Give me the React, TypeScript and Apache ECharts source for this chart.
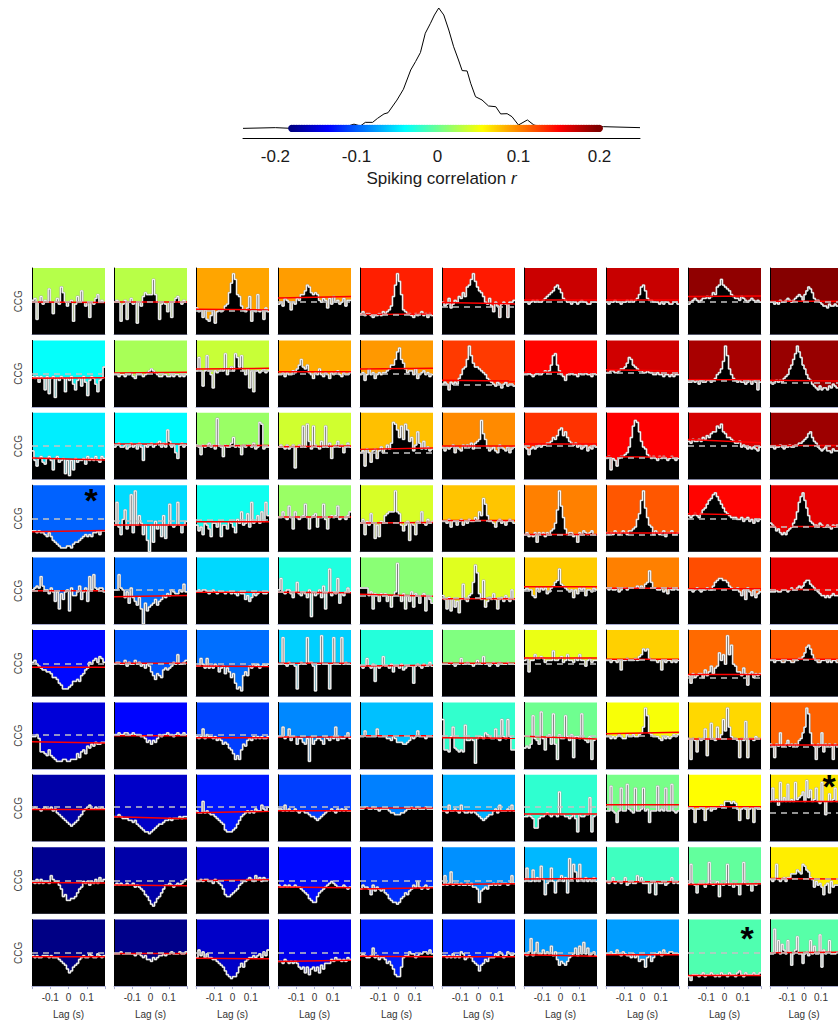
import React, { useEffect, useRef } from "react";
import * as echarts from "echarts";

// ---------- top panel: distribution of spiking correlations ----------
const densityR = [-0.24, -0.2, -0.18, -0.12, -0.103, -0.095, -0.089, -0.08, -0.074, -0.066, -0.061, -0.05, -0.042, -0.033, -0.027, -0.021, -0.015, -0.0086, -0.0037, 0.0016, 0.0078, 0.014, 0.02, 0.026, 0.0305, 0.0366, 0.041, 0.047, 0.055, 0.063, 0.072, 0.078, 0.086, 0.092, 0.1, 0.111, 0.119, 0.13, 0.205, 0.25];
const densityH = [0.0, 0.006, 0.0, 0.0, 0.035, 0.02, 0.05, 0.05, 0.083, 0.12, 0.13, 0.235, 0.325, 0.485, 0.555, 0.63, 0.79, 0.873, 0.942, 1.0, 0.942, 0.817, 0.678, 0.568, 0.48, 0.477, 0.375, 0.263, 0.236, 0.186, 0.18, 0.12, 0.122, 0.097, 0.028, 0.07, 0.028, 0.012, 0.014, 0.006];
const topTicks = [-0.2, -0.1, 0, 0.1, 0.2];
const lagTicks = [-0.1, 0, 0.1];
const R_MIN = -0.18;
const R_MAX = 0.2;

// ---------- correlation (colour) of each CCG panel, row by row ----------
const corrRow1 = [0.03, 0.031, 0.091, 0.094, 0.141, 0.143, 0.172, 0.173, 0.194, 0.198];
const corrRow2 = [-0.036, 0.025, 0.037, 0.088, 0.096, 0.131, 0.151, 0.17, 0.185, 0.191];
const corrRow3 = [-0.044, -0.039, 0.02, 0.04, 0.081, 0.101, 0.134, 0.153, 0.168, 0.189];
const corrRow4 = [-0.096, -0.051, -0.032, 0.02, 0.043, 0.079, 0.105, 0.12, 0.151, 0.162];
const corrRow5 = [-0.095, -0.091, -0.052, -0.026, 0.014, 0.046, 0.077, 0.105, 0.124, 0.162];
const corrRow6 = [-0.129, -0.1, -0.091, -0.055, -0.024, 0.01, 0.05, 0.075, 0.113, 0.119];
const corrRow7 = [-0.147, -0.131, -0.109, -0.082, -0.061, -0.019, 0.004, 0.055, 0.072, 0.116];
const corrRow8 = [-0.165, -0.153, -0.124, -0.109, -0.085, -0.067, -0.02, 0.007, 0.058, 0.066];
const corrRow9 = [-0.174, -0.165, -0.15, -0.129, -0.115, -0.079, -0.064, -0.014, -0.001, 0.064];
const corrRow10 = [-0.178, -0.176, -0.153, -0.14, -0.121, -0.119, -0.076, -0.074, -0.008, -0.005];

// ---------- CCG bins (base-36 digit / 35 = fraction of panel height) ----------
const ccgRow1 = ["ij8hkgihohbhjgpmhfhi7gkhnhfh9hgjlhih", "hih7gi8hjgh6hfkmllltlh8ghgch9hjkhgih", "ecd9d87ad6cdcdfgmrwtlkfdcek7dclcd8ec", "ghfjihdhgjillnqpmlmlihjiejgkhighjfii", "bcabba9aabacbcdfkqwsldcbba9babcab9ba", "hfgjegihkjmkpqtwspnmkhgjfchf9ghg9hhi", "hhghihihhijklmnpqomjihhghhghihhgghhh", "hghhihhghhihihijlpqnjiihhhghghhgghhg", "ghijihijjkjkmlpqtqponlkjjikjihijihih", "hhghgihhijihijklkilnpomjiihgffegffgf"];
const ccgRow2 = ["gfgdgf9g7fg5fegf8fegc9efbgd6egfc8efl", "hhghhghhigfhhhghijkjihgghhgghghhghgh", "jqjbjrjhajijkjshkljsqlrjhkaj8jjijkij", "hhigihhjikmplkmihfihkhgihfihijhgihhi", "hiehkhifhihiijkmmptvpnkijjhkfhijhigh", "cdc9dcdcfhklpwrnllkjihfedcbdcacdbccb", "hhihghihhijijmrsmjhgehhihhgihhihhgih", "iijjiijkklnqpmlkjjiijiihhihhghhghghh", "ddedeceddeedefhikowrkhfededdcdeced9d", "dcdededfghkmpswtqmkhfecba9b9aa9bacba"];
const ccgRow3 = ["fa7bc98bca5bc9ab3a2a5b9aab8cabaca9cb", "hijhhighjhigjhaihijhijkhjhqkhiebijhi", "ihdihijhigwihcihhjmhihdihiihjghutghh", "hihgighi6hihshtkgsihgkhshjbhikhiehjh", "ef7ge9fgbfhegigjutqmsltqkmfipjgkghfg", "hfhghiehgfihihjgjklvolhfghfeihgfhegh", "hgdghghihiijjkmlnqrnpmkjijhighifhgih", "bc5ba7bccdehmsvupkhgdcbcbacbcbabcbab", "kjlkklkmlnmoppsrtpommlkjjkhihghghgfh", "hhghhihghhihhiijjklmopmkjhgfghffegff"];
const ccgRow4 = ["bbabaa98a865432223324556789898aab9bb", "eqd9hmceuawejf9e60e5gce8j7epedeqeaeg", "ebd9fec8ffdg8eecgfdahflefkdqfgjflgqj", "iilihoiclihijpicijkdiiphcijijohiihjl", "fh9gekf7e8gfjklllwlkebeg6fe9gflfehfg", "ggfhdggeghegfhggihljspjggfdghfgeghgf", "9a898a5a9a8a9bcfmwoic9aa895a9ba9ab99", "a9a9ba9aba9bbcdhkrwnied9ba9ab8aab99a", "jijkjikmnprsuvtrpnlkjiiihhighighfhgh", "fedbca9a9bcdfhlqtvrnjgfeedfeddedcede"];
const ccgRow5 = ["ijkjpkiigjhch8gdhi7jffhkdhjcpiqjijjh", "iiqjiehbjecae80b79abdacdfegfihggihlh", "hihiihghihghhhghhghgfhggdfcegfghhggh", "iohgiigehmgfhgei4hfgiek8htfhgobgfhjh", "jjjjfh8gfcgfgcf9fhwfcg8fch9gfbfg7fdb", "fd8e7d9c6dldcfgmvrgdn9cedgd8decfdcid", "ijiifejhjijghjkmntlkjihieigjijfiihji", "jijiijhijjijjjjkjkjlmsmjjiijhigjiiji", "iihijihiijiikmnoonnmkjiijhfidjhfiegh", "hhhihhiiihijiijkjkmnnlkjihgffefefgff"];
const ccgRow6 = ["ijhgfeeddcaa976444568898bcefihjkilki", "hiihhjgihhjhighfhgdb9cbaefefgihmhhij", "ggkhfkfgfhgdfgcfdac7453bdbgfhghfghgh", "hhvhgihhg4hihhviig3hhwhhh4hvhhhvhihh", "gfgkgfh8gfglggfhdggfhefggg7ghgfhggig", "hhhhihghhkhhihhghjhhlhhghihgihhhihhh", "jkdjjmkklkijjjojjklijmjjikjmjjgjkijj", "jjijjijejjkjjjkjlmpopkjjjijejijjijij", "b7cabccaebdgcfgnjmhwmrhgddbfc6cdacbc", "jjijjjiijjjiijjkklnqrpmkjiijjjijijji"];
const ccgRow7 = ["hhig9987a7654445544555869a8cbdceddee", "iijiijjiijiiihhgefdfegihiijiihijiiji", "hghlgihhghfgfdedba8575adcfgfhghghggh", "hhmghlfhhdggedg4hdfggfdhgfhgmfhgghjg", "hhkhhhhhlhhhhggfhgeeeddefhghkhhhghhh", "qaa9hmba9a9nffgf3ghhgjihgglgfqhgqhaa", "bcbdsgfdugahidtd5iggshfi6hhgtgfeh5fg", "hhghghihggihhihhijmwsjihhhgfhghghihi", "g5gf9gfgl7gogfmgiqkwmhggf6gfp6ggfhgg", "dc6dcjccdfcdcdcfgjmwtjdc5dcj9dcdc5dc"];
const ccgRow8 = ["hihhghihhighfedcba989abdeghijhhihhih", "ddedcccbbab9876554567899abbcbcccdcdd", "gfflfgfeedcba96555679bdefgfgfhggjhgi", "hhgjghgghgfggffeddcbcdefgghgfhghghgg", "hhiihhihhghhhhgffeeeffghhihhihhhihhh", "ggfjgghgfjgffgfgfedcbcdeeghfjggghgjg", "ddedc77cddefedeedqeeddcdec5eddeen5de", "ggtgfagsgguhgfsgghsghagggtghgsggugfg", "hihahhihbhighhiijilllklkhbhihchiaihh", "lslmjvlnlulmlvmnoqlwnrlmslkvlelplmsl"];
const ccgRow9 = ["hgigighhgkihhfd9a77889bdehghfhgigjhi", "fgfgffgffgefedca9754689bdffgfefgfghi", "hhihiihhgihgfda99abcdfghhijihkijhjii", "feefefeefeedcba87669bcdefghgfeeefede", "dfeedafcedcdba87665689bacdfehedefdee", "fkfgmfggfgffgfgeed6cdedffgfgfgggfgkg", "hohhnhjhpiaghohbhikhjbtiqmhqihjhihjh", "hghjghhghjfghggkhjgggbghahgghfghjghg", "gqgfbgggegrgfgh9gfgqfgegfagrgfgcgfgg", "ihiqihijhjjlllnmlqpnmjiehfgeafgbheff"];
const ccgRow10 = ["gfgffgggfgfffedcb978abcefgffhgffhgfg", "hhhihhhhhhghhgfgeedfefgghghhihhhihhi", "fjgifhffeedcba8654557acadeffgfghfigj", "ddcedcdcdca9a7a69a8a7b9cccedfeededfe", "ghgffgkfgeffecdb9655afggihhfghhiihjh", "ggfgfhfgfihefgfdcb8bcedfffhgihfgihgh", "hgipginhhjhihlgiebdcbdfghkglhnhkghig", "hhihhjhgihggfhfgdeeafgdfhhigjhhiihhh", "536665675667656576657665786576667667", "hhuiohmjhoibhjqhhchigohlhhrajhiohhhi"];

// ---------- red (jitter) baseline [start, end] and dashed reference level ----------
const redRow1 = [[0.49, 0.48], [0.49, 0.49], [0.38, 0.37], [0.55, 0.57], [0.3, 0.31], [0.48, 0.46], [0.52, 0.52], [0.52, 0.52], [0.57, 0.58], [0.5, 0.5]];
const redRow2 = [[0.43, 0.44], [0.51, 0.52], [0.57, 0.58], [0.53, 0.53], [0.57, 0.58], [0.4, 0.39], [0.52, 0.52], [0.56, 0.54], [0.41, 0.41], [0.4, 0.39]];
const redRow3 = [[0.32, 0.29], [0.53, 0.53], [0.5, 0.51], [0.49, 0.5], [0.45, 0.47], [0.5, 0.5], [0.53, 0.53], [0.34, 0.33], [0.6, 0.55], [0.51, 0.51]];
const redRow4 = [[0.3, 0.32], [0.4, 0.4], [0.45, 0.45], [0.52, 0.52], [0.43, 0.44], [0.47, 0.47], [0.26, 0.26], [0.28, 0.28], [0.57, 0.55], [0.38, 0.38]];
const redRow5 = [[0.5, 0.5], [0.41, 0.43], [0.48, 0.48], [0.48, 0.47], [0.45, 0.42], [0.38, 0.38], [0.56, 0.56], [0.54, 0.54], [0.53, 0.53], [0.52, 0.52]];
const redRow6 = [[0.44, 0.44], [0.5, 0.5], [0.46, 0.45], [0.5, 0.5], [0.46, 0.47], [0.5, 0.5], [0.58, 0.58], [0.56, 0.56], [0.33, 0.33], [0.56, 0.56]];
const redRow7 = [[0.41, 0.39], [0.5, 0.5], [0.47, 0.47], [0.48, 0.48], [0.5, 0.5], [0.47, 0.46], [0.49, 0.45], [0.53, 0.55], [0.45, 0.45], [0.36, 0.36]];
const redRow8 = [[0.48, 0.48], [0.37, 0.34], [0.43, 0.45], [0.46, 0.46], [0.5, 0.5], [0.46, 0.46], [0.41, 0.41], [0.55, 0.55], [0.52, 0.52], [0.6, 0.6]];
const redRow9 = [[0.47, 0.46], [0.43, 0.42], [0.5, 0.51], [0.4, 0.39], [0.37, 0.39], [0.44, 0.45], [0.52, 0.53], [0.48, 0.48], [0.44, 0.45], [0.53, 0.52]];
const redRow10 = [[0.44, 0.44], [0.49, 0.49], [0.42, 0.41], [0.37, 0.39], [0.45, 0.44], [0.44, 0.44], [0.47, 0.45], [0.47, 0.47], [0.16, 0.16], [0.5, 0.51]];

const dashRow1 = [0.49, 0.49, 0.36, 0.5, 0.3, 0.42, 0.5, 0.5, 0.5, 0.5];
const dashRow2 = [0.5, 0.5, 0.55, 0.5, 0.5, 0.34, 0.5, 0.51, 0.4, 0.36];
const dashRow3 = [0.5, 0.52, 0.5, 0.49, 0.4, 0.48, 0.5, 0.32, 0.5, 0.5];
const dashRow4 = [0.5, 0.47, 0.48, 0.52, 0.44, 0.46, 0.25, 0.25, 0.5, 0.38];
const dashRow5 = [0.5, 0.51, 0.5, 0.48, 0.43, 0.39, 0.5, 0.54, 0.52, 0.52];
const dashRow6 = [0.5, 0.5, 0.5, 0.5, 0.47, 0.5, 0.5, 0.55, 0.28, 0.55];
const dashRow7 = [0.52, 0.52, 0.52, 0.5, 0.5, 0.5, 0.5, 0.5, 0.45, 0.33];
const dashRow8 = [0.52, 0.52, 0.52, 0.52, 0.52, 0.52, 0.52, 0.52, 0.5, 0.43];
const dashRow9 = [0.5, 0.5, 0.5, 0.5, 0.5, 0.5, 0.5, 0.5, 0.5, 0.52];
const dashRow10 = [0.5, 0.5, 0.5, 0.5, 0.5, 0.5, 0.5, 0.5, 0.5, 0.5];

// panels marked with an asterisk [row, col]
const starCells = [[3, 0], [7, 9], [9, 8]];
// asterisk vertical offset inside its panel (px from panel top)
const starOffsets = [15, 11, 18];

const corrRows = [corrRow1, corrRow2, corrRow3, corrRow4, corrRow5, corrRow6, corrRow7, corrRow8, corrRow9, corrRow10];
const ccgRows = [ccgRow1, ccgRow2, ccgRow3, ccgRow4, ccgRow5, ccgRow6, ccgRow7, ccgRow8, ccgRow9, ccgRow10];
const redRows = [redRow1, redRow2, redRow3, redRow4, redRow5, redRow6, redRow7, redRow8, redRow9, redRow10];
const dashRows = [dashRow1, dashRow2, dashRow3, dashRow4, dashRow5, dashRow6, dashRow7, dashRow8, dashRow9, dashRow10];

// layout
const COL_X0 = 32;
const COL_STEP = 82;
const PANEL_W = 73;
const ROW_Y0 = 268;
const ROW_STEP = 72.4;
const PANEL_H = 66.5;
const FONT = "'Liberation Sans', Arial, Helvetica, sans-serif";

const clamp = (v: number) => Math.max(0, Math.min(1, v));
function jet(r: number): string {
  const t = (r - R_MIN) / (R_MAX - R_MIN);
  const R = clamp(1.5 - Math.abs(4 * t - 3));
  const G = clamp(1.5 - Math.abs(4 * t - 2));
  const B = clamp(1.5 - Math.abs(4 * t - 1));
  return `rgb(${Math.round(R * 255)},${Math.round(G * 255)},${Math.round(B * 255)})`;
}
const decode = (s: string) => s.split("").map((ch) => parseInt(ch, 36) / 35);
const fmt = (v: number) => String(Math.round(v * 100) / 100);

function buildOption() {
  const grids: any[] = [{ left: 243, top: 8, width: 397, height: 130 }];
  const xAxes: any[] = [
    {
      gridIndex: 0,
      type: "value",
      min: -0.24,
      max: 0.25,
      axisLine: { show: true, onZero: false, lineStyle: { color: "#000", width: 1 } },
      axisTick: { show: false },
      splitLine: { show: false },
      axisLabel: { customValues: topTicks, fontSize: 17, color: "#1a1a1a", margin: 10, formatter: fmt, fontFamily: FONT },
      name: "{n|Spiking correlation }{i|r}",
      nameLocation: "middle",
      nameGap: 32,
      nameTextStyle: {
        fontSize: 17,
        color: "#1a1a1a",
        rich: {
          n: { fontSize: 17, color: "#1a1a1a", fontFamily: FONT },
          i: { fontSize: 17, color: "#1a1a1a", fontStyle: "italic", fontFamily: FONT },
        },
      },
    },
  ];
  const yAxes: any[] = [{ gridIndex: 0, type: "value", min: -0.08, max: 1, show: false }];
  const series: any[] = [
    {
      type: "line",
      xAxisIndex: 0,
      yAxisIndex: 0,
      data: densityR.map((r, i) => [r, densityH[i]]),
      symbol: "none",
      lineStyle: { color: "#000", width: 1 },
      silent: true,
      z: 2,
    },
  ];
  const bar: number[][] = [];
  for (let k = 0; k <= 190; k++) bar.push([R_MIN + k * 0.002, 0]);
  series.push({
    type: "scatter",
    xAxisIndex: 0,
    yAxisIndex: 0,
    data: bar,
    symbolSize: 7,
    itemStyle: { color: (p: any) => jet(p.value[0]), opacity: 1 },
    silent: true,
    z: 3,
  });

  for (let r = 0; r < 10; r++) {
    for (let c = 0; c < 10; c++) {
      const gi = 1 + r * 10 + c;
      const bottom = r === 9;
      grids.push({
        left: COL_X0 + c * COL_STEP,
        top: ROW_Y0 + r * ROW_STEP,
        width: PANEL_W,
        height: PANEL_H,
        show: true,
        backgroundColor: jet(corrRows[r][c]),
        borderWidth: 0,
      });
      xAxes.push({
        gridIndex: gi,
        type: "value",
        min: -0.2,
        max: 0.2,
        interval: 0.1,
        axisLine: { show: true, onZero: false, lineStyle: { color: "#a9add0", width: 1 } },
        axisTick: { show: bottom, length: 3, lineStyle: { color: "#a9add0" } },
        axisLabel: { show: bottom, customValues: lagTicks, fontSize: 10, color: "#333", margin: 6, formatter: fmt, fontFamily: FONT },
        splitLine: { show: false },
        name: bottom ? "Lag (s)" : "",
        nameLocation: "middle",
        nameGap: 23,
        nameTextStyle: { fontSize: 10, color: "#333", fontFamily: FONT },
      });
      yAxes.push({
        gridIndex: gi,
        type: "value",
        min: 0,
        max: 1,
        axisLine: { show: true, onZero: false, lineStyle: { color: "#000", width: 1 } },
        axisTick: { show: false },
        axisLabel: { show: false },
        splitLine: { show: false },
        name: c === 0 ? "CCG" : "",
        nameLocation: "middle",
        nameGap: 9,
        nameRotate: 90,
        nameTextStyle: { fontSize: 10, color: "#444", fontFamily: FONT },
      });
      const vals = decode(ccgRows[r][c]);
      const w = 0.4 / vals.length;
      const pts: number[][] = vals.map((v, i) => [-0.2 + i * w, v]);
      pts.push([0.2, vals[vals.length - 1]]);
      series.push({
        type: "line",
        xAxisIndex: gi,
        yAxisIndex: gi,
        data: pts,
        step: "end",
        symbol: "none",
        lineStyle: { color: "#a8a8a8", width: 1.8 },
        areaStyle: { color: "#000", opacity: 1 },
        silent: true,
        z: 2,
      });
      series.push({
        type: "line",
        xAxisIndex: gi,
        yAxisIndex: gi,
        data: pts,
        step: "end",
        symbol: "none",
        lineStyle: { color: "#fff", width: 0.9 },
        silent: true,
        z: 3,
        markLine: {
          silent: true,
          symbol: "none",
          label: { show: false },
          lineStyle: { color: "#c4c4c4", type: [6, 5], width: 1.5 },
          data: [{ yAxis: dashRows[r][c] }],
        },
      });
      const red = redRows[r][c];
      series.push({
        type: "line",
        xAxisIndex: gi,
        yAxisIndex: gi,
        data: [[-0.2, red[0]], [0.2, red[1]]],
        symbol: "none",
        lineStyle: { color: "#ff0000", width: 1.5 },
        silent: true,
        z: 4,
      });
    }
  }

  const graphic = starCells.map(([r, c], k) => ({
    type: "text",
    x: COL_X0 + c * COL_STEP + PANEL_W - 14,
    y: ROW_Y0 + r * ROW_STEP + starOffsets[k],
    z: 100,
    style: {
      text: "*",
      font: `bold 34px ${FONT}`,
      fill: "#000",
      align: "center",
      verticalAlign: "middle",
    },
  }));

  return {
    animation: false,
    backgroundColor: "#fff",
    textStyle: { fontFamily: FONT },
    grid: grids,
    xAxis: xAxes,
    yAxis: yAxes,
    series,
    graphic,
  };
}

export default function App() {
  const ref = useRef<HTMLDivElement>(null);
  useEffect(() => {
    if (!ref.current) return;
    const chart = echarts.init(ref.current, null, { renderer: "svg" });
    chart.setOption(buildOption() as any);
    return () => chart.dispose();
  }, []);
  return (
    <div
      ref={ref}
      style={{ position: "absolute", left: 0, top: 0, width: 838, height: 1022, background: "#fff" }}
    />
  );
}
